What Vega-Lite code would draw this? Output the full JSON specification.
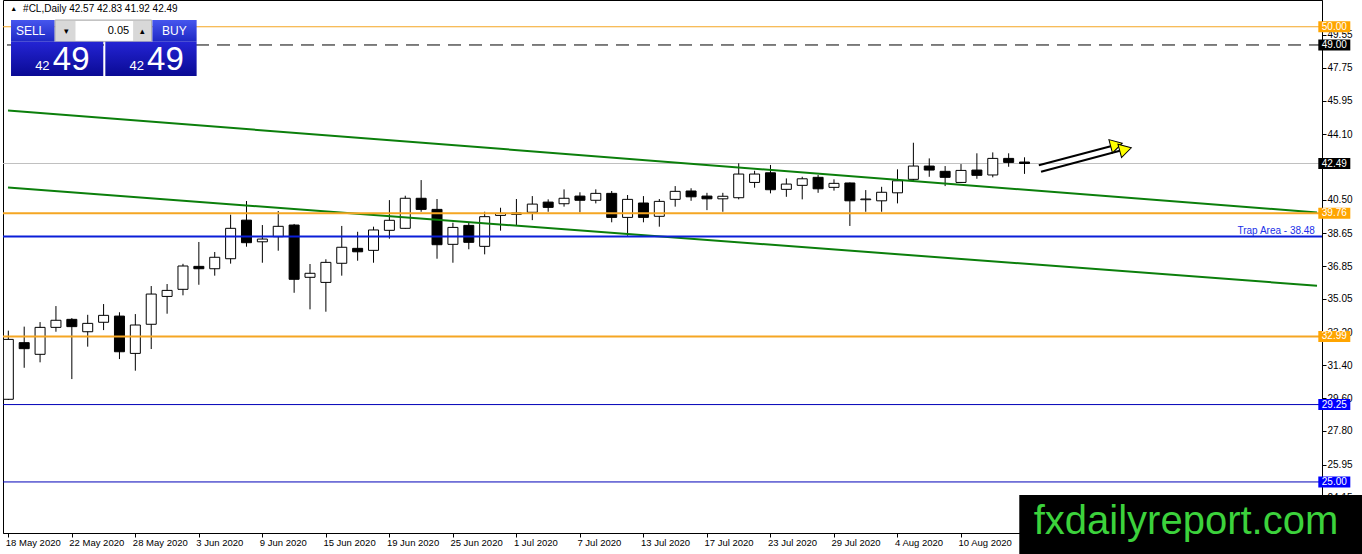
{
  "$schema": "https://vega.github.io/schema/vega-lite/v6.json",
  "width": 1319,
  "height": 533,
  "autosize": {"type": "none"},
  "padding": {"left": 3, "top": 0, "right": 40, "bottom": 21},
  "background": "white",
  "datasets": {
    "candles": [
      {"i": 0, "date": "2020-05-18", "o": 29.54, "h": 33.31, "l": 29.50, "c": 32.83},
      {"i": 1, "date": "2020-05-19", "o": 32.65, "h": 33.53, "l": 31.27, "c": 32.32},
      {"i": 2, "date": "2020-05-20", "o": 32.01, "h": 33.78, "l": 31.57, "c": 33.49},
      {"i": 3, "date": "2020-05-21", "o": 33.49, "h": 34.66, "l": 33.25, "c": 33.88},
      {"i": 4, "date": "2020-05-22", "o": 33.93, "h": 34.00, "l": 30.65, "c": 33.53},
      {"i": 5, "date": "2020-05-25", "o": 33.25, "h": 34.18, "l": 32.43, "c": 33.71},
      {"i": 6, "date": "2020-05-26", "o": 33.77, "h": 34.77, "l": 33.34, "c": 34.15},
      {"i": 7, "date": "2020-05-27", "o": 34.11, "h": 34.32, "l": 31.75, "c": 32.15},
      {"i": 8, "date": "2020-05-28", "o": 32.06, "h": 34.22, "l": 31.11, "c": 33.62},
      {"i": 9, "date": "2020-05-29", "o": 33.66, "h": 35.76, "l": 32.30, "c": 35.32},
      {"i": 10, "date": "2020-06-01", "o": 35.19, "h": 35.87, "l": 34.24, "c": 35.52},
      {"i": 11, "date": "2020-06-02", "o": 35.58, "h": 36.98, "l": 35.25, "c": 36.86},
      {"i": 12, "date": "2020-06-03", "o": 36.84, "h": 38.18, "l": 35.83, "c": 36.71},
      {"i": 13, "date": "2020-06-04", "o": 36.71, "h": 37.63, "l": 36.33, "c": 37.34},
      {"i": 14, "date": "2020-06-05", "o": 37.26, "h": 39.68, "l": 36.99, "c": 38.93},
      {"i": 15, "date": "2020-06-08", "o": 39.38, "h": 40.43, "l": 37.92, "c": 38.14},
      {"i": 16, "date": "2020-06-09", "o": 38.19, "h": 39.11, "l": 37.04, "c": 38.34},
      {"i": 17, "date": "2020-06-10", "o": 38.47, "h": 39.88, "l": 37.70, "c": 39.04},
      {"i": 18, "date": "2020-06-11", "o": 39.11, "h": 39.17, "l": 35.39, "c": 36.13},
      {"i": 19, "date": "2020-06-12", "o": 36.24, "h": 36.97, "l": 34.48, "c": 36.46},
      {"i": 20, "date": "2020-06-15", "o": 35.96, "h": 37.23, "l": 34.35, "c": 37.06},
      {"i": 21, "date": "2020-06-16", "o": 37.01, "h": 39.06, "l": 36.33, "c": 37.89},
      {"i": 22, "date": "2020-06-17", "o": 37.83, "h": 38.74, "l": 37.15, "c": 37.64},
      {"i": 23, "date": "2020-06-18", "o": 37.72, "h": 39.02, "l": 37.04, "c": 38.84},
      {"i": 24, "date": "2020-06-19", "o": 38.82, "h": 40.48, "l": 38.36, "c": 39.37},
      {"i": 25, "date": "2020-06-22", "o": 38.93, "h": 40.72, "l": 38.90, "c": 40.58},
      {"i": 26, "date": "2020-06-23", "o": 40.58, "h": 41.58, "l": 39.84, "c": 39.97},
      {"i": 27, "date": "2020-06-24", "o": 39.97, "h": 40.54, "l": 37.26, "c": 38.03},
      {"i": 28, "date": "2020-06-25", "o": 38.05, "h": 39.24, "l": 37.04, "c": 38.98},
      {"i": 29, "date": "2020-06-26", "o": 39.09, "h": 39.26, "l": 37.78, "c": 38.16},
      {"i": 30, "date": "2020-06-29", "o": 37.94, "h": 39.84, "l": 37.50, "c": 39.57},
      {"i": 31, "date": "2020-06-30", "o": 39.64, "h": 40.06, "l": 38.80, "c": 39.75},
      {"i": 32, "date": "2020-07-01", "o": 39.70, "h": 40.54, "l": 39.11, "c": 39.77},
      {"i": 33, "date": "2020-07-02", "o": 39.81, "h": 40.70, "l": 39.38, "c": 40.26},
      {"i": 34, "date": "2020-07-03", "o": 40.37, "h": 40.52, "l": 39.84, "c": 40.08},
      {"i": 35, "date": "2020-07-06", "o": 40.28, "h": 41.07, "l": 40.12, "c": 40.58},
      {"i": 36, "date": "2020-07-07", "o": 40.70, "h": 40.91, "l": 39.81, "c": 40.47},
      {"i": 37, "date": "2020-07-08", "o": 40.47, "h": 41.07, "l": 40.30, "c": 40.85},
      {"i": 38, "date": "2020-07-09", "o": 40.85, "h": 40.98, "l": 39.26, "c": 39.53},
      {"i": 39, "date": "2020-07-10", "o": 39.53, "h": 40.76, "l": 38.52, "c": 40.52},
      {"i": 40, "date": "2020-07-13", "o": 40.32, "h": 40.70, "l": 39.26, "c": 39.53},
      {"i": 41, "date": "2020-07-14", "o": 39.59, "h": 40.54, "l": 39.02, "c": 40.41},
      {"i": 42, "date": "2020-07-15", "o": 40.52, "h": 41.25, "l": 40.12, "c": 40.96},
      {"i": 43, "date": "2020-07-16", "o": 40.98, "h": 41.13, "l": 40.44, "c": 40.66},
      {"i": 44, "date": "2020-07-17", "o": 40.70, "h": 40.88, "l": 39.93, "c": 40.55},
      {"i": 45, "date": "2020-07-20", "o": 40.55, "h": 40.88, "l": 39.84, "c": 40.69},
      {"i": 46, "date": "2020-07-21", "o": 40.61, "h": 42.50, "l": 40.52, "c": 41.91},
      {"i": 47, "date": "2020-07-22", "o": 41.45, "h": 42.09, "l": 41.16, "c": 41.91},
      {"i": 48, "date": "2020-07-23", "o": 41.98, "h": 42.41, "l": 40.85, "c": 41.05},
      {"i": 49, "date": "2020-07-24", "o": 41.07, "h": 41.67, "l": 40.66, "c": 41.36},
      {"i": 50, "date": "2020-07-27", "o": 41.29, "h": 41.76, "l": 40.52, "c": 41.65},
      {"i": 51, "date": "2020-07-28", "o": 41.73, "h": 41.86, "l": 40.88, "c": 41.10},
      {"i": 52, "date": "2020-07-29", "o": 41.18, "h": 41.62, "l": 41.00, "c": 41.40},
      {"i": 53, "date": "2020-07-30", "o": 41.42, "h": 41.45, "l": 39.06, "c": 40.44},
      {"i": 54, "date": "2020-07-31", "o": 40.50, "h": 41.03, "l": 39.84, "c": 40.54},
      {"i": 55, "date": "2020-08-03", "o": 40.44, "h": 41.21, "l": 39.84, "c": 40.91},
      {"i": 56, "date": "2020-08-04", "o": 40.88, "h": 42.17, "l": 40.30, "c": 41.54},
      {"i": 57, "date": "2020-08-05", "o": 41.62, "h": 43.63, "l": 41.54, "c": 42.35},
      {"i": 58, "date": "2020-08-06", "o": 42.35, "h": 42.77, "l": 41.76, "c": 42.13},
      {"i": 59, "date": "2020-08-07", "o": 42.06, "h": 42.35, "l": 41.25, "c": 41.73},
      {"i": 60, "date": "2020-08-10", "o": 41.45, "h": 42.46, "l": 41.42, "c": 42.11},
      {"i": 61, "date": "2020-08-11", "o": 42.13, "h": 43.05, "l": 41.65, "c": 41.84},
      {"i": 62, "date": "2020-08-12", "o": 41.86, "h": 43.10, "l": 41.73, "c": 42.77},
      {"i": 63, "date": "2020-08-13", "o": 42.77, "h": 43.05, "l": 42.31, "c": 42.55},
      {"i": 64, "date": "2020-08-14", "o": 42.57, "h": 42.83, "l": 41.92, "c": 42.49}
    ],
    "levels": [
      {"level": 50.00, "kind": "orange", "label": ""},
      {"level": 49.00, "kind": "dashed", "label": ""},
      {"level": 42.49, "kind": "price", "label": ""},
      {"level": 39.76, "kind": "orange", "label": ""},
      {"level": 38.48, "kind": "trap", "label": "Trap Area - 38.48"},
      {"level": 32.99, "kind": "orange", "label": ""},
      {"level": 29.25, "kind": "blue", "label": ""},
      {"level": 25.00, "kind": "blue", "label": ""}
    ],
    "trend": [
      {"line": "upper", "i": -0.02, "p": 45.40},
      {"line": "upper", "i": 82.42, "p": 39.80},
      {"line": "lower", "i": -0.02, "p": 41.17},
      {"line": "lower", "i": 82.42, "p": 35.78}
    ],
    "arrows": [
      {"arrow": 1, "i": 64.9, "p": 42.39},
      {"arrow": 1, "i": 69.79, "p": 43.52},
      {"arrow": 2, "i": 65.04, "p": 42.04},
      {"arrow": 2, "i": 70.36, "p": 43.27}
    ],
    "heads": [
      {"arrow": 1, "i": 69.79, "p": 43.52},
      {"arrow": 2, "i": 70.36, "p": 43.27}
    ]
  },
  "layer": [
    {
      "data": {"name": "levels"},
      "transform": [{"filter": "datum.kind == 'price'"}],
      "mark": {"type": "rule", "color": "#C0C0C0", "strokeWidth": 1},
      "encoding": {
        "y": {
          "field": "level", "type": "quantitative", "title": null,
          "scale": {"domain": [22.196, 51.47], "nice": false, "zero": false},
          "axis": {
            "orient": "right",
            "values": [49.55, 47.75, 45.95, 44.10, 40.50, 38.65, 36.85, 35.05, 33.20, 31.40, 29.60, 27.80, 25.95, 24.15],
            "tickCount": 30,
            "format": ".2f", "grid": false, "tickSize": 4, "labelPadding": 1,
            "labelFontSize": 10, "labelOverlap": false, "labelFlush": false, "title": null
          }
        }
      }
    },
    {
      "data": {"name": "candles"},
      "mark": {"type": "rule", "color": "black", "strokeWidth": 1, "clip": true},
      "encoding": {
        "x": {
          "field": "i", "type": "quantitative", "title": null,
          "scale": {"domain": [-0.02, 82.42], "nice": false, "zero": false},
          "axis": {
            "values": [0, 4, 8, 12, 16, 20, 24, 28, 32, 36, 40, 44, 48, 52, 56, 60, 64],
            "tickCount": 40,
            "labelExpr": "['18 May 2020','22 May 2020','28 May 2020','3 Jun 2020','9 Jun 2020','15 Jun 2020','19 Jun 2020','25 Jun 2020','1 Jul 2020','7 Jul 2020','13 Jul 2020','17 Jul 2020','23 Jul 2020','29 Jul 2020','4 Aug 2020','10 Aug 2020','14 Aug 2020'][round(datum.value/4)]",
            "grid": false, "tickSize": 4, "labelAlign": "left", "labelPadding": 0, "labelOffset": -3,
            "labelFontSize": 9.5, "labelFlush": false, "labelOverlap": false,
            "title": null
          }
        },
        "y": {"field": "l", "type": "quantitative", "title": null},
        "y2": {"field": "h"}
      }
    },
    {
      "data": {"name": "candles"},
      "mark": {"type": "bar", "width": 10, "stroke": "black", "strokeWidth": 1, "clip": true},
      "encoding": {
        "x": {"field": "i", "type": "quantitative", "title": null},
        "y": {"field": "o", "type": "quantitative", "title": null},
        "y2": {"field": "c"},
        "fill": {"condition": {"test": "datum.c > datum.o", "value": "white"}, "value": "black"}
      }
    },
    {
      "data": {"name": "trend"},
      "mark": {"type": "line", "color": "#0B7F0B", "strokeWidth": 2, "clip": true},
      "encoding": {
        "x": {"field": "i", "type": "quantitative", "title": null},
        "y": {"field": "p", "type": "quantitative", "title": null},
        "detail": {"field": "line"}
      }
    },
    {
      "data": {"name": "levels"},
      "transform": [{"filter": "datum.kind == 'orange'"}],
      "mark": {"type": "rule", "color": "#F5A623"},
      "encoding": {
        "y": {"field": "level", "type": "quantitative", "title": null},
        "strokeWidth": {"condition": {"test": "datum.level >= 50", "value": 1}, "value": 2}
      }
    },
    {
      "data": {"name": "levels"},
      "transform": [{"filter": "datum.kind == 'dashed'"}],
      "mark": {"type": "rule", "color": "black", "strokeWidth": 1, "strokeDash": [13, 8]},
      "encoding": {"y": {"field": "level", "type": "quantitative", "title": null}}
    },
    {
      "data": {"name": "levels"},
      "transform": [{"filter": "datum.kind == 'trap'"}],
      "mark": {"type": "rule", "color": "#0A1ED8", "strokeWidth": 2},
      "encoding": {"y": {"field": "level", "type": "quantitative", "title": null}}
    },
    {
      "data": {"name": "levels"},
      "transform": [{"filter": "datum.kind == 'blue'"}],
      "mark": {"type": "rule", "color": "#0000B8", "strokeWidth": 1},
      "encoding": {"y": {"field": "level", "type": "quantitative", "title": null}}
    },
    {
      "data": {"name": "arrows"},
      "mark": {"type": "line", "color": "black", "strokeWidth": 2},
      "encoding": {
        "x": {"field": "i", "type": "quantitative", "title": null},
        "y": {"field": "p", "type": "quantitative", "title": null},
        "detail": {"field": "arrow"}
      }
    },
    {
      "data": {"name": "heads"},
      "mark": {"type": "point", "shape": "triangle-right", "filled": true, "fill": "#FFFF00", "stroke": "black", "strokeWidth": 1, "size": 190, "angle": -15, "opacity": 1},
      "encoding": {
        "x": {"field": "i", "type": "quantitative", "title": null},
        "y": {"field": "p", "type": "quantitative", "title": null}
      }
    },
    {
      "data": {"name": "levels"},
      "transform": [{"filter": "datum.kind == 'trap'"}],
      "mark": {"type": "text", "align": "right", "baseline": "bottom", "dy": -1, "fontSize": 10, "color": "#2030E8"},
      "encoding": {
        "x": {"datum": 82.29, "type": "quantitative"},
        "y": {"field": "level", "type": "quantitative", "title": null},
        "text": {"field": "label"}
      }
    },
    {
      "data": {"name": "levels"},
      "transform": [{"filter": "datum.kind != 'trap'"}],
      "mark": {"type": "tick", "orient": "horizontal", "size": 32, "thickness": 11, "opacity": 1},
      "encoding": {
        "x": {"datum": 83.51, "type": "quantitative"},
        "y": {"field": "level", "type": "quantitative", "title": null},
        "color": {
          "field": "kind", "type": "nominal", "legend": null,
          "scale": {"domain": ["orange", "dashed", "price", "blue"], "range": ["#FFA500", "#000000", "#000000", "#0000FF"]}
        }
      }
    },
    {
      "data": {"name": "levels"},
      "transform": [{"filter": "datum.kind != 'trap'"}],
      "mark": {"type": "text", "color": "white", "fontSize": 10, "align": "center", "baseline": "middle"},
      "encoding": {
        "x": {"datum": 83.51, "type": "quantitative"},
        "y": {"field": "level", "type": "quantitative", "title": null},
        "text": {"field": "level", "type": "quantitative", "format": ".2f"}
      }
    },
    {
      "data": {"values": [{"t": "▲"}]},
      "mark": {"type": "text", "fontSize": 7, "align": "left", "baseline": "middle", "color": "black"},
      "encoding": {
        "x": {"datum": 0.12, "type": "quantitative"},
        "y": {"datum": 50.98, "type": "quantitative"},
        "text": {"field": "t"}
      }
    },
    {
      "data": {"values": [{"t": "#CL,Daily  42.57 42.83 41.92 42.49"}]},
      "mark": {"type": "text", "fontSize": 10, "align": "left", "baseline": "middle", "color": "black"},
      "encoding": {
        "x": {"datum": 0.93, "type": "quantitative"},
        "y": {"datum": 50.98, "type": "quantitative"},
        "text": {"field": "t"}
      }
    },
    {
      "data": {"values": [{}]},
      "mark": {"type": "rect", "fill": {"gradient": "linear", "x1": 0, "y1": 0, "x2": 0, "y2": 1, "stops": [{"offset": 0, "color": "#4656EE"}, {"offset": 1, "color": "#1E28C4"}]}},
      "encoding": {
        "x": {"datum": 0.17, "type": "quantitative"}, "x2": {"datum": 2.92},
        "y": {"datum": 50.37, "type": "quantitative"}, "y2": {"datum": 49.18}
      }
    },
    {
      "data": {"values": [{}]},
      "mark": {"type": "rect", "fill": {"gradient": "linear", "x1": 0, "y1": 0, "x2": 0, "y2": 1, "stops": [{"offset": 0, "color": "#4656EE"}, {"offset": 1, "color": "#1E28C4"}]}},
      "encoding": {
        "x": {"datum": 9.07, "type": "quantitative"}, "x2": {"datum": 11.86},
        "y": {"datum": 50.37, "type": "quantitative"}, "y2": {"datum": 49.18}
      }
    },
    {
      "data": {"values": [{}]},
      "mark": {"type": "rect", "fill": "#D8D8D8", "stroke": "#B0B0B0", "strokeWidth": 1},
      "encoding": {
        "x": {"datum": 2.95, "type": "quantitative"}, "x2": {"datum": 9.02},
        "y": {"datum": 50.37, "type": "quantitative"}, "y2": {"datum": 49.18}
      }
    },
    {
      "data": {"values": [{}]},
      "mark": {"type": "rect", "fill": "white"},
      "encoding": {
        "x": {"datum": 4.23, "type": "quantitative"}, "x2": {"datum": 7.86},
        "y": {"datum": 50.32, "type": "quantitative"}, "y2": {"datum": 49.23}
      }
    },
    {
      "data": {"values": [{}]},
      "mark": {"type": "rect", "fill": {"gradient": "linear", "x1": 0, "y1": 0, "x2": 0, "y2": 1, "stops": [{"offset": 0, "color": "#2424D4"}, {"offset": 1, "color": "#0A0A94"}]}},
      "encoding": {
        "x": {"datum": 0.17, "type": "quantitative"}, "x2": {"datum": 5.98},
        "y": {"datum": 49.18, "type": "quantitative"}, "y2": {"datum": 47.30}
      }
    },
    {
      "data": {"values": [{}]},
      "mark": {"type": "rect", "fill": {"gradient": "linear", "x1": 0, "y1": 0, "x2": 0, "y2": 1, "stops": [{"offset": 0, "color": "#2424D4"}, {"offset": 1, "color": "#0A0A94"}]}},
      "encoding": {
        "x": {"datum": 6.11, "type": "quantitative"}, "x2": {"datum": 11.86},
        "y": {"datum": 49.18, "type": "quantitative"}, "y2": {"datum": 47.30}
      }
    },
    {
      "data": {"values": [{"t": "SELL", "x": 1.4}, {"t": "BUY", "x": 10.46}]},
      "mark": {"type": "text", "fontSize": 12, "align": "center", "baseline": "middle", "color": "white"},
      "encoding": {
        "x": {"field": "x", "type": "quantitative"},
        "y": {"datum": 49.77, "type": "quantitative"},
        "text": {"field": "t"}
      }
    },
    {
      "data": {"values": [{"t": "0.05"}]},
      "mark": {"type": "text", "fontSize": 11, "align": "right", "baseline": "middle", "color": "black"},
      "encoding": {
        "x": {"datum": 7.61, "type": "quantitative"},
        "y": {"datum": 49.77, "type": "quantitative"},
        "text": {"field": "t"}
      }
    },
    {
      "data": {"values": [{"t": "▾", "x": 3.67}, {"t": "▴", "x": 8.45}]},
      "mark": {"type": "text", "fontSize": 9, "align": "center", "baseline": "middle", "color": "black"},
      "encoding": {
        "x": {"field": "x", "type": "quantitative"},
        "y": {"datum": 49.77, "type": "quantitative"},
        "text": {"field": "t"}
      }
    },
    {
      "data": {"values": [{"t": "42", "x": 2.6}, {"t": "42", "x": 8.54}]},
      "mark": {"type": "text", "fontSize": 13, "align": "right", "baseline": "middle", "color": "white"},
      "encoding": {
        "x": {"field": "x", "type": "quantitative"},
        "y": {"datum": 47.85, "type": "quantitative"},
        "text": {"field": "t"}
      }
    },
    {
      "data": {"values": [{"t": "49", "x": 2.8}, {"t": "49", "x": 8.74}]},
      "mark": {"type": "text", "fontSize": 33, "align": "left", "baseline": "middle", "color": "white"},
      "encoding": {
        "x": {"field": "x", "type": "quantitative"},
        "y": {"datum": 48.2, "type": "quantitative"},
        "text": {"field": "t"}
      }
    },
    {
      "data": {"values": [{}]},
      "mark": {"type": "rect", "fill": "black"},
      "encoding": {
        "x": {"datum": 63.67, "type": "quantitative"}, "x2": {"datum": 85.5},
        "y": {"datum": 24.28, "type": "quantitative"}, "y2": {"datum": 20.6}
      }
    },
    {
      "data": {"values": [{"t": "fxdailyreport.com"}]},
      "mark": {"type": "text", "fontSize": 40, "align": "center", "baseline": "middle", "color": "#3CD23C"},
      "encoding": {
        "x": {"datum": 74.17, "type": "quantitative"},
        "y": {"datum": 22.8, "type": "quantitative"},
        "text": {"field": "t"}
      }
    }
  ],
  "config": {
    "font": "Liberation Sans",
    "view": {"stroke": "black", "strokeWidth": 1},
    "axis": {
      "labelFont": "Liberation Sans",
      "labelColor": "black",
      "tickColor": "black",
      "domainColor": "black",
      "grid": false,
      "labelOverlap": false
    }
  }
}
